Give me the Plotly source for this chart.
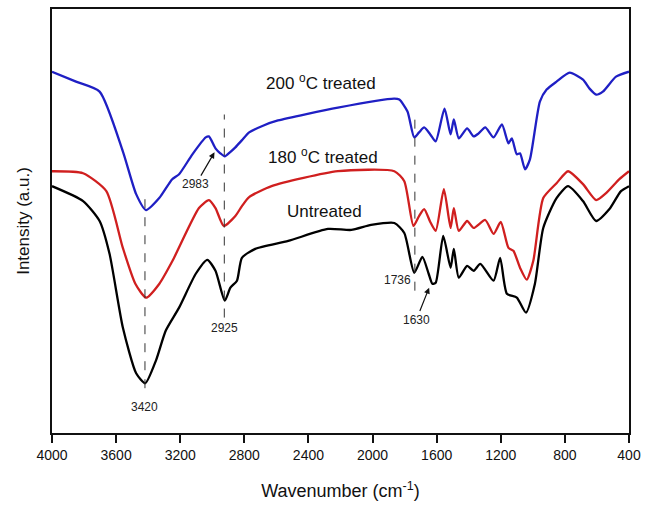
import plotly.graph_objects as go

# Wavenumber (cm-1) and intensity (a.u.) for each spectrum
w_200 = [4000, 3850, 3703, 3558, 3475, 3413, 3331, 3250, 3207, 3124, 3041, 3021, 2980, 2950, 2922, 2890, 2856, 2816, 2770,
         2680, 2590, 2216, 1864, 1833, 1782, 1740, 1710, 1678, 1640, 1606, 1551, 1513, 1493, 1462, 1410, 1369, 1338, 1297,
         1245, 1193, 1152, 1131, 1100, 1080, 1049, 1018, 956, 914, 852, 770, 687, 646, 605, 563, 481, 400]
i_200 = [363, 353, 343, 283, 240, 224, 236, 255, 260, 280, 297, 298, 286, 281, 278, 282, 287, 294, 302,
         309, 314, 327, 336, 335, 323, 297, 302, 307, 300, 293, 326, 300, 315, 296, 306, 298, 301, 307,
         297, 310, 291, 296, 280, 281, 265, 275, 333, 345, 353, 362, 355, 346, 340, 343, 358, 363]

w_180 = [4000, 3806, 3661, 3558, 3480, 3413, 3330, 3248, 3083, 3021, 2980, 2928, 2856, 2815, 2770, 2630, 2216, 1864, 1802,
         1745, 1710, 1678, 1640, 1606, 1555, 1513, 1493, 1462, 1410, 1369, 1297, 1245, 1200, 1152, 1121, 1080, 1038,
         997, 935, 852, 780, 687, 605, 543, 460, 400]
i_180 = [263, 261, 243, 186, 150, 136, 150, 173, 226, 234, 226, 208, 218, 228, 237, 248, 263, 263, 253,
         208, 218, 225, 212, 203, 245, 206, 226, 203, 213, 206, 214, 200, 212, 186, 183, 166, 154,
         173, 236, 251, 263, 250, 234, 241, 255, 263]

w_raw = [4000, 3806, 3703, 3641, 3558, 3475, 3418, 3351, 3290, 3207, 3103, 3031, 2980, 2922, 2887, 2846, 2815, 2732,
         2526, 2278, 2133, 2009, 1864, 1802, 1740, 1689, 1650, 1627, 1606, 1559, 1513, 1493, 1462, 1410, 1369, 1328,
         1245, 1204, 1162, 1100, 1043, 987, 935, 852, 780, 687, 605, 522, 450, 400]
i_raw = [248, 233, 213, 180, 106, 60, 50, 73, 103, 126, 160, 174, 163, 133, 146, 153, 176, 185,
         193, 205, 204, 209, 211, 201, 161, 177, 160, 150, 151, 198, 166, 185, 156, 168, 163, 170,
         153, 176, 140, 136, 121, 150, 206, 236, 248, 233, 213, 225, 243, 248]

x_ticks = [4000, 3600, 3200, 2800, 2400, 2000, 1600, 1200, 800, 400]

FONT = "Liberation Sans, Arial, sans-serif"

fig = go.Figure()
for w, i, c in [(w_200, i_200, "#1f1fc4"), (w_180, i_180, "#d01f1f"), (w_raw, i_raw, "#000000")]:
    fig.add_trace(go.Scatter(x=w, y=i, mode="lines", line=dict(color=c, width=2.3, shape="spline", smoothing=0.6),
                             showlegend=False, hoverinfo="skip"))

# dashed peak markers
peak_lines = [(3420, 45, 235), (2925, 116, 320), (1736, 143, 316)]
for wx, y0, y1 in peak_lines:
    fig.add_shape(type="line", x0=wx, x1=wx, y0=y0, y1=y1, xref="x", yref="y",
                  line=dict(color="#333333", width=1, dash="dash"))

small = dict(family=FONT, size=12, color="#222222")
fig.add_annotation(x=3420, y=26, text="3420", showarrow=False, font=small)
fig.add_annotation(x=2925, y=105, text="2925", showarrow=False, font=small)
fig.add_annotation(x=1736, y=154, text="1736", showarrow=False, font=small, xanchor="right", xshift=-2)
# labels with arrows pointing at the bands
fig.add_annotation(x=2986, y=282, ax=3102, ay=250, axref="x", ayref="y", xref="x", yref="y", text="2983",
                   font=small, showarrow=True, arrowhead=2, arrowsize=1, arrowwidth=1.2, arrowcolor="#111111")
fig.add_annotation(x=1647, y=146, ax=1726, ay=114, axref="x", ayref="y", xref="x", yref="y", text="1630",
                   font=small, showarrow=True, arrowhead=2, arrowsize=1, arrowwidth=1.2, arrowcolor="#111111")

big = dict(family=FONT, size=17, color="#111111")
fig.add_annotation(x=2321, y=353, text="200 <sup>o</sup>C treated", showarrow=False, font=big)
fig.add_annotation(x=2308, y=278, text="180 <sup>o</sup>C treated", showarrow=False, font=big)
fig.add_annotation(x=2302, y=223, text="Untreated", showarrow=False, font=big)

fig.update_layout(
    width=648, height=508,
    margin=dict(l=52, r=15, t=7, b=75),
    paper_bgcolor="white", plot_bgcolor="white",
    xaxis=dict(range=[4000, 400], tickvals=x_ticks, ticktext=[str(t) for t in x_ticks],
               ticks="outside", ticklen=8, tickwidth=1.5, tickcolor="#111111",
               showline=True, linecolor="#111111", linewidth=1.5, mirror=True,
               showgrid=False, zeroline=False,
               tickfont=dict(family=FONT, size=14, color="#111111"),
               title=dict(text="Wavenumber (cm<sup>-1</sup>)", standoff=23,
                          font=dict(family=FONT, size=18, color="#111111"))),
    yaxis=dict(range=[0, 426], showticklabels=False, ticks="",
               showline=True, linecolor="#111111", linewidth=1.5, mirror=True,
               showgrid=False, zeroline=False,
               title=dict(text="Intensity (a.u.)", standoff=16,
                          font=dict(family=FONT, size=17, color="#111111"))),
)

fig.write_html("out.html")
